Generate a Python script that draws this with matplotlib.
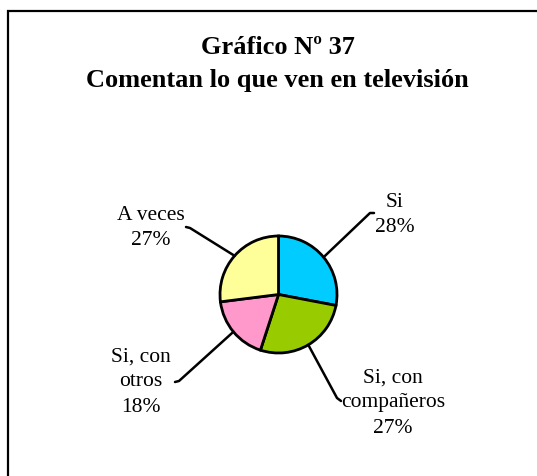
import matplotlib.pyplot as plt
import numpy as np

# data
categories = ['Si', 'Si, con\ncompañeros', 'Si, con\notros', 'A veces']
values = [28, 27, 18, 27]
colors = ['#00CCFF', '#99CC00', '#FF99CC', '#FFFF99']
title = 'Gráfico Nº 37\nComentan lo que ven en televisión'

# layout (pixel coords, y measured from top)
W, H = 537, 477
center = (278.5, 295.5)
radius = 58.5
label_pos = [(395, 215), (393, 403), (141, 382), (151, 228)]
leader_bend = [(370, 214), (337, 399), (179, 382), (190, 229)]
leader_end = [(374, 214), (341, 402), (175, 383), (186, 228)]

plt.rcParams['font.family'] = ['Liberation Serif', 'DejaVu Serif']

def py(y):
    return H - y

fig = plt.figure(figsize=(W / 100, H / 100), dpi=100)
ax = fig.add_axes([0, 0, 1, 1])
ax.set_xlim(0, W)
ax.set_ylim(0, H)
ax.set_aspect('equal')
ax.axis('off')

wedges, _ = ax.pie(values, colors=colors, startangle=90, counterclock=False,
                   center=(center[0], py(center[1])), radius=radius,
                   wedgeprops=dict(edgecolor='black', linewidth=2))
ax.set_xlim(0, W)
ax.set_ylim(0, H)

total = float(sum(values))
for i, w in enumerate(wedges):
    mid = np.deg2rad((w.theta1 + w.theta2) / 2)
    ex = center[0] + radius * np.cos(mid)
    ey = py(center[1]) + radius * np.sin(mid)
    bx, by = leader_bend[i]
    tx, ty = leader_end[i]
    ax.plot([ex, bx, tx], [ey, py(by), py(ty)], color='black', lw=1.8,
            solid_capstyle='round', solid_joinstyle='round')
    pct = round(values[i] / total * 100)
    ax.text(label_pos[i][0], py(label_pos[i][1]), '%s\n%d%%' % (categories[i], pct),
            ha='center', va='center', fontsize=15.5, linespacing=1.45)

ax.text(277.5, py(64), title, ha='center', va='center', fontsize=19,
        fontweight='bold', linespacing=1.55)

# frame (left and top only)
ax.plot([8, 8, W], [py(H), py(12), py(12)], color='black', lw=1.6,
        solid_joinstyle='miter', clip_on=False)

plt.savefig('out.png', dpi=100)
